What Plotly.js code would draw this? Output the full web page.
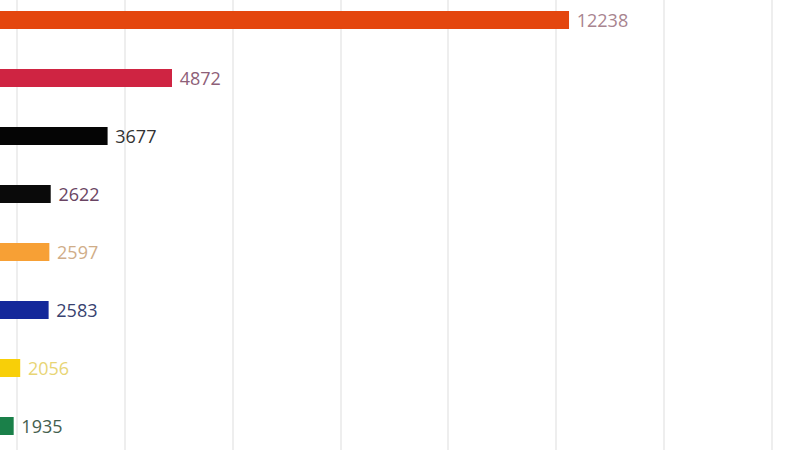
<!DOCTYPE html>
<html>
<head>
<meta charset="utf-8">
<script src="https://cdn.plot.ly/plotly-3.0.1.min.js"></script>
<style>html,body{margin:0;padding:0;background:#fff;}#chart{width:800px;height:450px;}</style>
</head>
<body>
<div id="chart"></div>
<script>
const categories = ['A','B','C','D','E','F','G','H'];
const values = [12238, 4872, 3677, 2622, 2597, 2583, 2056, 1935];
const barColors = ['#e4460e','#cf2442','#050505','#0a0a0a','#f7a035','#14289a','#f8cf08','#1a8049'];
const labelColors = ['#a8848f','#8e6078','#333333','#6a4462','#d0ad88','#38426f','#e8d575','#44604f'];

const trace = {
  type: 'bar',
  orientation: 'h',
  y: categories,
  x: values,
  marker: {color: barColors},
  width: 0.31,
  text: values.map(v => ' ' + v),
  textposition: 'outside',
  constraintext: 'none',
  textfont: {family: 'Open Sans', size: 18, color: labelColors},
  cliponaxis: false,
  hoverinfo: 'none'
};

const layout = {
  width: 800, height: 450,
  margin: {l: 0, r: 0, t: 0, b: 0},
  paper_bgcolor: '#ffffff',
  plot_bgcolor: '#ffffff',
  showlegend: false,
  xaxis: {
    range: [1681, 16523],
    dtick: 2000, tick0: 0,
    showgrid: true, gridcolor: '#eeeeee', gridwidth: 2,
    showticklabels: false, zeroline: false, showline: false, ticks: ''
  },
  yaxis: {
    type: 'category',
    categoryorder: 'array', categoryarray: categories,
    range: [7.414, -0.345],
    showticklabels: false, showgrid: false, zeroline: false, showline: false, ticks: ''
  }
};

Plotly.newPlot('chart', [trace], layout, {displayModeBar: false, staticPlot: true});
</script>
</body>
</html>
